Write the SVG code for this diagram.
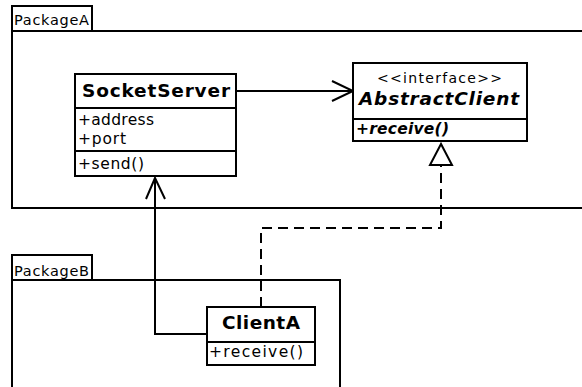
<svg xmlns="http://www.w3.org/2000/svg" width="582" height="387" viewBox="0 0 582 387">
  <defs>
    <style>
      .frame { fill: none; stroke: #000; stroke-width: 2; }
      .box { fill: #fff; stroke: #000; stroke-width: 2; }
      .sep { stroke: #000; stroke-width: 2; }
      .edge { fill: none; stroke: #000; stroke-width: 2; }
      .dash { stroke-dasharray: 10 6; }
      .head { fill: none; stroke: #000; stroke-width: 2; stroke-linejoin: miter; }
      .tri { fill: #fff; stroke: #000; stroke-width: 2; }
      text { font-family: "DejaVu Sans", "Liberation Sans", sans-serif; fill: #000; }
      .pkg { font-size: 14.5px; }
      .title { font-size: 18.5px; font-weight: bold; }
      .member { font-size: 15.5px; }
      .stereo { font-size: 14px; }
      .abstract { font-style: italic; }
    </style>
  </defs>
  <rect width="582" height="387" fill="#fff"/>

  <!-- packages -->
  <g id="PackageA">
    <rect class="frame" x="12" y="6" width="80" height="25"/>
    <rect class="frame" x="12" y="31" width="590" height="177"/>
    <text class="pkg" x="14" y="25" textLength="75" lengthAdjust="spacing">PackageA</text>
  </g>
  <g id="PackageB">
    <rect class="frame" x="12" y="255" width="80" height="25"/>
    <path class="frame" d="M12,400 V280 H340 V400"/>
    <text class="pkg" x="14" y="276" textLength="75" lengthAdjust="spacing">PackageB</text>
  </g>

  <!-- connectors -->
  <g id="connectors">
    <!-- SocketServer to AbstractClient (association) -->
    <line class="edge" x1="236" y1="91" x2="352" y2="91"/>
    <polyline class="head" points="332,81 353,91 332,101"/>
    <!-- ClientA to SocketServer (association) -->
    <polyline class="edge" points="207,334 155,334 155,178"/>
    <polyline class="head" points="146,199 155,178 165,199"/>
    <!-- ClientA realizes AbstractClient -->
    <polyline class="edge dash" points="261,307 261,228 441,228 441,165"/>
    <polygon class="tri" points="441,144 430,165 452,165"/>
  </g>

  <!-- classes -->
  <g id="SocketServer">
    <rect class="box" x="75" y="74" width="161" height="102"/>
    <line class="sep" x1="75" y1="108" x2="236" y2="108"/>
    <line class="sep" x1="75" y1="151" x2="236" y2="151"/>
    <text class="title" x="82" y="97" textLength="148" lengthAdjust="spacing">SocketServer</text>
    <text class="member" x="78" y="125" textLength="76" lengthAdjust="spacing">+address</text>
    <text class="member" x="78" y="144" textLength="48" lengthAdjust="spacing">+port</text>
    <text class="member" x="78" y="169" textLength="66" lengthAdjust="spacing">+send()</text>
  </g>

  <g id="AbstractClient">
    <rect class="box" x="353" y="63" width="174" height="78"/>
    <line class="sep" x1="353" y1="119" x2="527" y2="119"/>
    <text class="stereo" x="377" y="83" textLength="125" lengthAdjust="spacing">&lt;&lt;interface&gt;&gt;</text>
    <text class="title abstract" x="359" y="105" textLength="160" lengthAdjust="spacing">AbstractClient</text>
    <text class="member abstract" x="356" y="134" font-size="15px" font-weight="bold" textLength="93" lengthAdjust="spacing">+receive()</text>
  </g>

  <g id="ClientA">
    <rect class="box" x="207" y="307" width="108" height="58"/>
    <line class="sep" x1="207" y1="342" x2="315" y2="342"/>
    <text class="title" x="222" y="329" textLength="78" lengthAdjust="spacing">ClientA</text>
    <text class="member" x="209" y="357" textLength="94" lengthAdjust="spacing">+receive()</text>
  </g>
</svg>
